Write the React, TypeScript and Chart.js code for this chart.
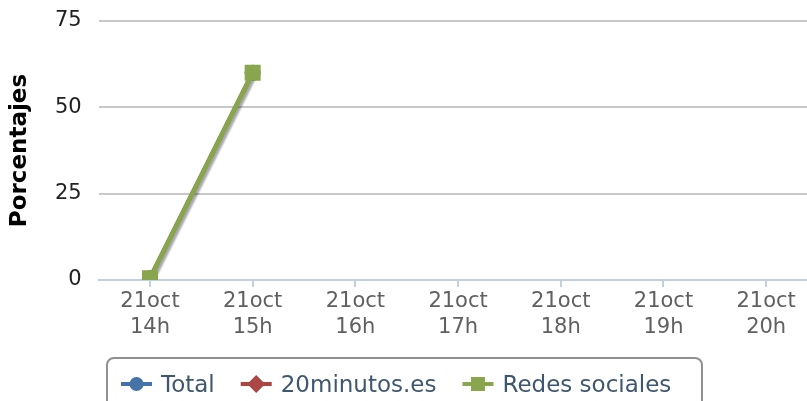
import React, { useEffect, useRef } from "react";
import { Chart, registerables } from "chart.js";

Chart.register(...registerables);

const categoryDays = ["21oct", "21oct", "21oct", "21oct", "21oct", "21oct", "21oct"];
const categoryHours = ["14h", "15h", "16h", "17h", "18h", "19h", "20h"];
const totalValues = [0.5, 60, null, null, null, null, null];
const minutosValues = [0.5, 60, null, null, null, null, null];
const redesValues = [0.5, 60, null, null, null, null, null];
const yTicks = [0, 25, 50, 75];
const yTitle = "Porcentajes";

const FONT = '"DejaVu Sans", Verdana, sans-serif';

const shadowPlugin = {
  id: "lineShadow",
  beforeDatasetDraw(chart: any, args: any) {
    const meta = args.meta;
    if (!meta || !meta.dataset || args.index !== 2) return;
    const ctx = chart.ctx;
    const a = chart.chartArea;
    ctx.save();
    ctx.beginPath();
    ctx.rect(a.left, a.top, a.right - a.left, a.bottom - a.top);
    ctx.clip();
    ctx.shadowColor = "rgba(0,0,0,0.35)";
    ctx.shadowOffsetX = 3;
    ctx.shadowOffsetY = 1;
    ctx.shadowBlur = 2;
    meta.dataset.draw(ctx, a);
    ctx.restore();
  },
};

const legendPlugin = {
  id: "hcLegend",
  afterDraw(chart: any) {
    const ctx = chart.ctx;
    ctx.save();
    const bx = 107, by = 358, bw = 595, bh = 80, r = 7;
    ctx.beginPath();
    ctx.moveTo(bx + r, by);
    ctx.lineTo(bx + bw - r, by);
    ctx.arcTo(bx + bw, by, bx + bw, by + r, r);
    ctx.lineTo(bx + bw, by + bh);
    ctx.lineTo(bx, by + bh);
    ctx.lineTo(bx, by + r);
    ctx.arcTo(bx, by, bx + r, by, r);
    ctx.closePath();
    ctx.strokeStyle = "#909090";
    ctx.lineWidth = 2;
    ctx.stroke();

    ctx.font = "23px " + FONT;
    ctx.textBaseline = "alphabetic";
    ctx.textAlign = "left";
    let x = 121;
    const y = 384;
    chart.data.datasets.forEach((ds: any) => {
      const color = ds.borderColor;
      ctx.strokeStyle = color;
      ctx.lineWidth = 4;
      ctx.beginPath();
      ctx.moveTo(x, y);
      ctx.lineTo(x + 31, y);
      ctx.stroke();
      const cx = x + 15.5;
      ctx.fillStyle = color;
      ctx.beginPath();
      if (ds.pointStyle === "circle") {
        ctx.arc(cx, y, 7, 0, Math.PI * 2);
      } else if (ds.pointStyle === "rectRot") {
        ctx.moveTo(cx - 9, y);
        ctx.lineTo(cx, y - 9);
        ctx.lineTo(cx + 9, y);
        ctx.lineTo(cx, y + 9);
        ctx.closePath();
      } else {
        ctx.rect(cx - 7, y - 7, 14, 14);
      }
      ctx.fill();
      ctx.fillStyle = "#3E576F";
      ctx.fillText(ds.label, x + 40, y + 8);
      x += 40 + ctx.measureText(ds.label).width + 26;
    });
    ctx.restore();
  },
};

export default function App() {
  const ref = useRef<HTMLCanvasElement | null>(null);
  useEffect(() => {
    document.body.style.margin = "0";
    if (!ref.current) return;
    const labels = categoryDays.map((d, i) => [d, categoryHours[i]]);
    const chart = new Chart(ref.current, {
      type: "line",
      data: {
        labels,
        datasets: [
          {
            label: "Total",
            data: totalValues,
            borderColor: "#4572A7",
            backgroundColor: "#4572A7",
            pointStyle: "circle",
            pointRadius: 8,
            pointHoverRadius: 8,
            pointBorderWidth: 0,
            borderWidth: 4,
            clip: 0,
            order: 2,
          },
          {
            label: "20minutos.es",
            data: minutosValues,
            borderColor: "#AA4643",
            backgroundColor: "#AA4643",
            pointStyle: "rectRot",
            pointRadius: 8,
            pointHoverRadius: 8,
            pointBorderWidth: 0,
            borderWidth: 4,
            clip: 0,
            order: 1,
          },
          {
            label: "Redes sociales",
            data: redesValues,
            borderColor: "#89A54E",
            backgroundColor: "#89A54E",
            pointStyle: "rect",
            pointRadius: 11.3,
            pointHoverRadius: 11.3,
            pointBorderWidth: 0,
            borderWidth: 4.5,
            clip: 0,
            order: 0,
          },
        ] as any,
      },
      options: {
        animation: false,
        responsive: false,
        maintainAspectRatio: false,
        events: [],
        layout: { padding: { left: 0, right: 12.5, top: 21, bottom: 0 } },
        plugins: {
          legend: { display: false },
          tooltip: { enabled: false },
        },
        scales: {
          x: {
            type: "category",
            offset: true,
            grid: {
              offset: false,
              drawOnChartArea: false,
              drawTicks: true,
              tickLength: 7,
              color: "#C0D0E0",
              lineWidth: 2,
            },
            border: { display: true, color: "#C0D0E0", width: 2 },
            ticks: {
              color: "#606060",
              font: { family: FONT, size: 21, lineHeight: 1.25 },
              padding: 1,
              maxRotation: 0,
              autoSkip: false,
            },
            afterFit: (s: any) => {
              s.height = 121;
            },
          },
          y: {
            min: 0,
            max: 75,
            afterBuildTicks: (s: any) => {
              s.ticks = yTicks.map((v) => ({ value: v }));
            },
            grid: {
              color: "#C8C8C8",
              lineWidth: 2,
              drawTicks: true,
              tickLength: 17,
              tickColor: "rgba(0,0,0,0)",
            },
            border: { display: false },
            ticks: {
              color: "#222222",
              font: { family: FONT, size: 21 },
              padding: 0,
            },
            title: {
              display: true,
              text: yTitle,
              color: "#000000",
              font: { family: FONT, size: 23, weight: "bold" },
              padding: { top: 6, bottom: 0 },
            },
            afterFit: (s: any) => {
              s.width = 98.6;
            },
          },
        },
      },
      plugins: [shadowPlugin, legendPlugin],
    });
    return () => chart.destroy();
  }, []);
  return (
    <div style={{ width: 807, height: 401, overflow: "hidden", position: "relative", background: "#fff" }}>
      <canvas ref={ref} width={830} height={401} style={{ display: "block" }} />
    </div>
  );
}
